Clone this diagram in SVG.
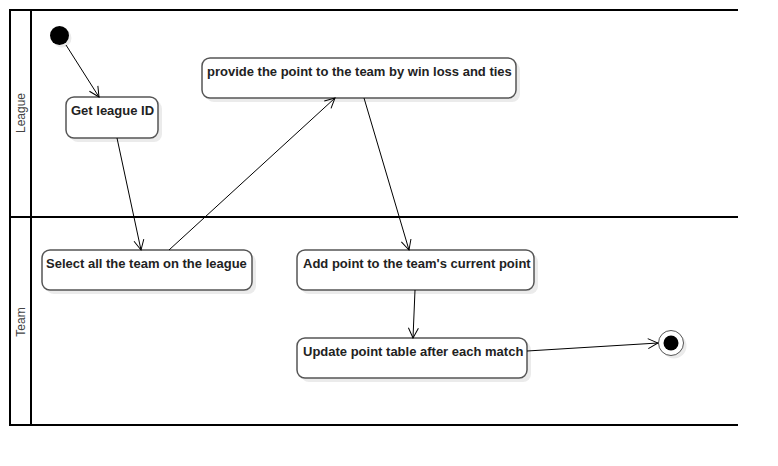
<svg xmlns="http://www.w3.org/2000/svg" width="778" height="466" viewBox="0 0 778 466">
<defs>
<marker id="open" viewBox="0 0 12 12" refX="11" refY="6" markerWidth="12" markerHeight="12" markerUnits="userSpaceOnUse" orient="auto">
<path d="M1,1 L11,6 L1,11" fill="none" stroke="#000" stroke-width="1"/>
</marker>
</defs>
<style>
.lane{stroke:#000;stroke-width:2;fill:none}
.lbl{font-family:"Liberation Sans",Arial,sans-serif;font-size:12px;fill:#444}
.box{fill:#fff;stroke:#555;stroke-width:1.5}
.sh{fill:#ebebeb}
.t{font-family:"Liberation Sans",Arial,sans-serif;font-size:13px;font-weight:bold;fill:#222}
.e{stroke:#000;stroke-width:1;fill:none;marker-end:url(#open)}
</style>
<rect width="778" height="466" fill="#fff"/>
<g id="lanes">
<path class="lane" d="M738,10 H10 V425 H738 M31,10 V425 M10,217 H738"/>
<text class="lbl" transform="translate(25,113) rotate(-90)" text-anchor="middle">League</text>
<text class="lbl" transform="translate(25,322) rotate(-90)" text-anchor="middle">Team</text>
</g>
<g id="start">
<circle cx="62" cy="38" r="9.5" class="sh"/>
<circle cx="59.5" cy="35.5" r="9.5" fill="#000"/>
</g>
<g id="getLeague">
<rect class="sh" x="70" y="101" width="92" height="41" rx="8"/>
<rect class="box" x="66" y="97" width="92" height="41" rx="8"/>
<text class="t" x="71" y="115">Get league ID</text>
</g>
<g id="provide">
<rect class="sh" x="206" y="62" width="314" height="40" rx="8"/>
<rect class="box" x="202" y="58" width="314" height="40" rx="8"/>
<text class="t" x="207" y="76">provide the point to the team by win loss and ties</text>
</g>
<g id="select">
<rect class="sh" x="46" y="254" width="210" height="40" rx="8"/>
<rect class="box" x="42" y="250" width="210" height="40" rx="8"/>
<text class="t" x="46" y="268">Select all the team on the league</text>
</g>
<g id="addPoint">
<rect class="sh" x="301" y="254" width="237" height="40" rx="8"/>
<rect class="box" x="297" y="250" width="237" height="40" rx="8"/>
<text class="t" x="303" y="268">Add point to the team's current point</text>
</g>
<g id="update">
<rect class="sh" x="301" y="342" width="230" height="40" rx="8"/>
<rect class="box" x="297" y="338" width="230" height="40" rx="8"/>
<text class="t" x="303" y="356">Update point table after each match</text>
</g>
<g id="end">
<circle cx="674" cy="346" r="12.5" class="sh"/>
<circle cx="671" cy="343" r="12.5" fill="#fff" stroke="#555" stroke-width="1"/>
<circle cx="671" cy="343" r="7.5" fill="#000"/>
</g>
<g id="connectors">
<path class="e" d="M66,45 L99,97"/>
<path class="e" d="M117,138 L141,250"/>
<path class="e" d="M169,250 L335,98"/>
<path class="e" d="M364,98 L409,250"/>
<path class="e" d="M415,290 L413,338"/>
<path class="e" d="M527,351 L658,343"/>
</g>
</svg>
